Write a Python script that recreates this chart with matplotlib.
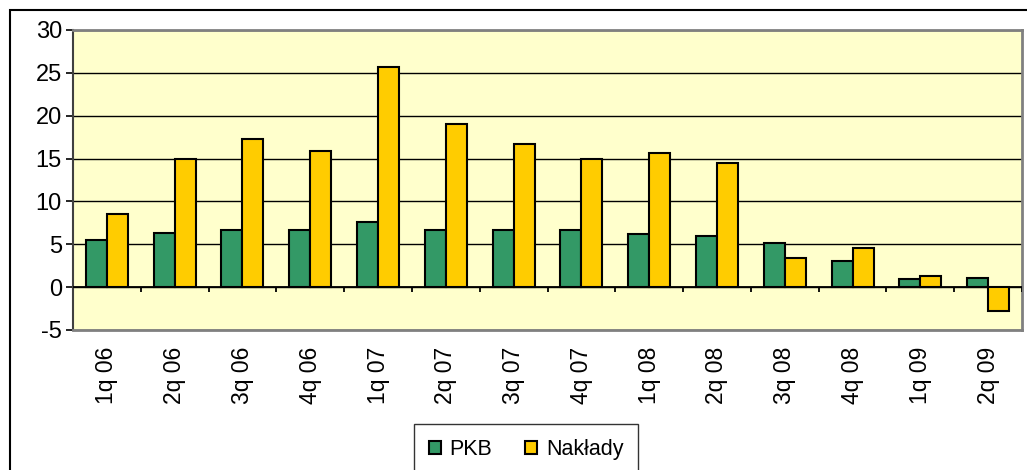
import numpy as np
import matplotlib.pyplot as plt
from matplotlib.patches import Rectangle

# Dane
kwartaly = ["1q 06", "2q 06", "3q 06", "4q 06", "1q 07", "2q 07", "3q 07",
            "4q 07", "1q 08", "2q 08", "3q 08", "4q 08", "1q 09", "2q 09"]
pkb = [5.5, 6.3, 6.7, 6.7, 7.6, 6.7, 6.7, 6.7, 6.2, 6.0, 5.1, 3.0, 0.9, 1.1]
naklady = [8.5, 15.0, 17.3, 15.9, 25.7, 19.0, 16.7, 15.0, 15.7, 14.5, 3.4, 4.6, 1.35, -2.8]

plt.rcParams['font.family'] = ['Liberation Sans', 'DejaVu Sans']
plt.rcParams['axes.unicode_minus'] = False

fig = plt.figure(figsize=(10.27, 4.7), dpi=100)
fig.patch.set_facecolor('white')

# ramka wykresu (wychodzi poza obraz)
fig.patches.append(Rectangle((10 / 1027, -0.1), 1.2, 1 - 10 / 470 + 0.1,
                             transform=fig.transFigure, fill=False,
                             edgecolor='black', linewidth=1.5))

ax = fig.add_axes([73 / 1027, 1 - 330 / 470, 949 / 1027, 300 / 470])
ax.set_facecolor('#FFFFCC')

x = np.arange(len(kwartaly))
w = 0.31
ax.bar(x - w / 2, pkb, w, color='#339966', edgecolor='black', linewidth=1.5,
       label='PKB', zorder=3)
ax.bar(x + w / 2, naklady, w, color='#FFCC00', edgecolor='black', linewidth=1.5,
       label='Nakłady', zorder=3)

ax.set_xlim(-0.5, len(kwartaly) - 0.5)
ax.set_ylim(-5, 30)
ax.set_yticks(np.arange(-5, 31, 5))
ax.yaxis.grid(True, color='black', linewidth=1)
ax.set_axisbelow(True)

# os zero z kreskami miedzy kategoriami
ax.axhline(0, color='black', linewidth=1.3, zorder=4)
ax.vlines(np.arange(len(kwartaly)) + 0.5, 0, -0.6, color='black', linewidth=1.3, zorder=4)

ax.set_xticks(x)
ax.set_xticklabels(kwartaly, rotation=90, fontsize=16.5)
ax.tick_params(axis='x', length=0, pad=12)
ax.tick_params(axis='y', labelsize=17, length=5, width=1.2, direction='out', pad=3)

for side in ['top', 'right', 'bottom']:
    ax.spines[side].set_color('#808080')
    ax.spines[side].set_linewidth(2)
ax.spines['left'].set_color('#404040')
ax.spines['left'].set_linewidth(1.5)

leg = ax.legend(loc='lower center', bbox_to_anchor=(526 / 1027, -5 / 470),
                bbox_transform=fig.transFigure, ncol=2, fontsize=15.5,
                frameon=True, fancybox=False, edgecolor='black',
                handlelength=0.56, handleheight=0.56, handletextpad=0.42,
                columnspacing=1.5, borderpad=0.7, borderaxespad=0)
leg.get_frame().set_linewidth(1)

plt.savefig('out.png', dpi=100)
